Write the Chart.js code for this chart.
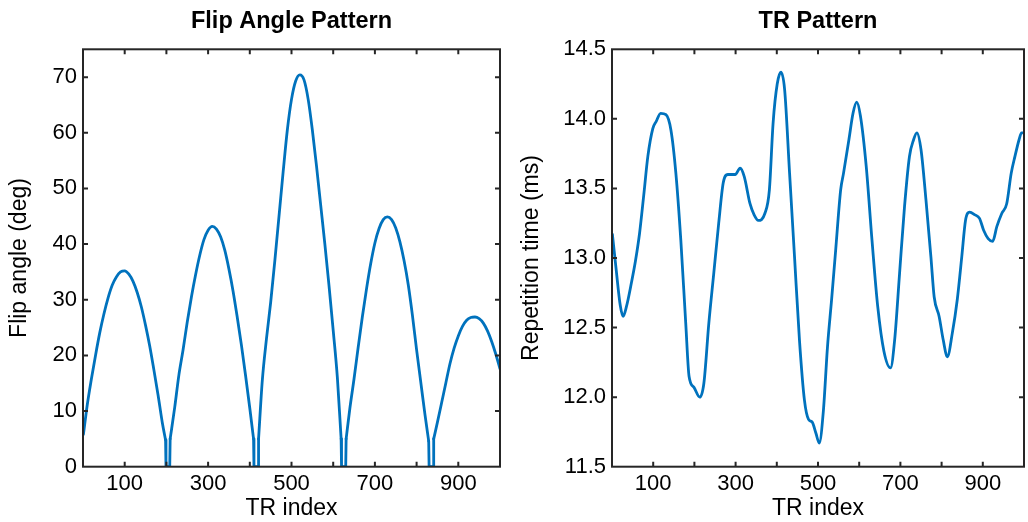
<!DOCTYPE html>
<html><head><meta charset="utf-8">
<script src="https://cdn.jsdelivr.net/npm/chart.js@4.4.0/dist/chart.umd.min.js"></script>
<style>
html,body{margin:0;padding:0;background:#fff;}
#wrap{position:relative;width:1028px;height:522px;overflow:hidden;background:#fff;}
.pane{position:absolute;top:0;}
</style></head><body>
<div id="wrap">
<div class="pane" style="left:0;width:512px;height:522px"><canvas id="c1" width="512" height="522"></canvas></div>
<div class="pane" style="left:512px;width:516px;height:522px"><canvas id="c2" width="516" height="522"></canvas></div>
</div>
<script>
// ---- data ----
const flipIndex = [1,10,20,30,40,50,60,70,80,90,100,110,120,130,140,150,160,170,180,190,198,199,208,
  209,220,230,240,250,260,270,280,290,300,310,320,330,340,350,360,370,380,390,400,409,410,420,
  421,430,440,450,460,470,480,490,500,510,520,530,540,550,560,570,580,590,600,610,619,620,630,
  631,640,650,660,670,680,690,700,710,720,730,740,750,760,770,780,790,800,810,820,829,830,840,
  841,850,860,870,880,890,900,910,920,930,940,950,960,970,980,990,1000];
const flipAngle = [5.8,11.0,15.7,20.0,24.0,27.4,30.3,32.6,34.1,35.0,35.2,34.6,33.3,31.3,28.7,25.4,21.7,17.4,12.9,8.0,4.8,0,0,
  5.0,10.7,16.5,21.0,26.0,30.5,34.5,38.0,40.8,42.5,43.2,42.7,41.3,38.9,35.5,31.5,26.8,21.8,16.3,10.5,5.0,0,0,
  5.0,15.5,23.0,29.5,37.0,45.0,53.0,60.5,66.0,69.3,70.4,69.5,66.0,60.5,54.0,47.0,40.0,32.5,24.5,16.0,5.0,0,0,
  5.0,10.5,15.8,21.5,27.0,32.0,36.5,40.2,42.8,44.4,44.9,44.4,42.9,40.4,37.0,32.7,27.2,21.0,15.2,9.4,4.6,0,0,
  5.0,8.0,11.5,15.0,18.5,21.3,23.5,25.2,26.3,26.8,26.9,26.6,25.8,24.4,22.5,20.2,17.6];

const trIndex = [1,10,20,27,35,47,57,67,77,87,99,107,118,131,143,155,167,179,187,199,213,223,235,247,259,270,281,299,311,321,
  335,345,355,371,382,391,401,410,419,431,443,455,467,477,486,495,503,513,523,533,543,555,562,575,585,594,603,617,631,645,
  660,676,686,698,710,722,732,740,750,762,774,782,794,804,814,826,838,849,858,868,881,892,902,913,924,934,946,958,969,978,988,994,1000];
const repTime = [13.17,12.92,12.66,12.58,12.65,12.82,12.98,13.18,13.45,13.73,13.93,13.98,14.04,14.03,13.92,13.61,13.13,12.53,12.15,12.07,12.0,12.1,12.53,12.89,13.25,13.54,13.60,13.60,13.645,13.585,
  13.39,13.31,13.27,13.32,13.49,13.97,14.25,14.335,14.21,13.61,13.01,12.41,11.98,11.84,11.82,11.74,11.67,11.90,12.36,12.70,13.06,13.49,13.61,13.85,14.04,14.12,14.02,13.66,13.13,12.65,
  12.33,12.21,12.41,12.89,13.37,13.73,13.85,13.90,13.78,13.42,13.01,12.72,12.58,12.41,12.29,12.46,12.70,13.01,13.27,13.33,13.31,13.285,13.2,13.14,13.12,13.225,13.32,13.39,13.61,13.73,13.85,13.90,13.90];

const xTickLabels = [100,300,500,700,900];
const flipTickLabels = [0,10,20,30,40,50,60,70];
const trTickLabels = [11.5,12.0,12.5,13.0,13.5,14.0,14.5];

// ---- styling ----
const FONT = '"Liberation Sans", Arial, Helvetica, sans-serif';
Chart.defaults.font.family = FONT;
Chart.defaults.color = '#000';
const LINE = '#0072BD';
const AXIS = '#262626';

const framePlugin = {
  id: 'frame',
  afterDatasetsDraw(chart) {
    const {ctx, chartArea: a} = chart;
    const x = chart.scales.x, y = chart.scales.y;
    const L = 5;
    ctx.save();
    ctx.strokeStyle = AXIS; ctx.lineWidth = 2;
    ctx.beginPath();
    x.ticks.forEach(t => {
      if (t.value <= x.min + 1e-9 || t.value >= x.max - 1e-9) return;
      const px = x.getPixelForValue(t.value);
      ctx.moveTo(px, a.bottom); ctx.lineTo(px, a.bottom - L);
      ctx.moveTo(px, a.top); ctx.lineTo(px, a.top + L);
    });
    y.ticks.forEach(t => {
      if (t.value <= y.min + 1e-9 || t.value >= y.max - 1e-9) return;
      const py = y.getPixelForValue(t.value);
      ctx.moveTo(a.left, py); ctx.lineTo(a.left + L, py);
      ctx.moveTo(a.right, py); ctx.lineTo(a.right - L, py);
    });
    ctx.stroke();
    ctx.strokeRect(a.left, a.top, a.right - a.left, a.bottom - a.top);
    ctx.restore();
  }
};

function lineDs(pts, smooth) {
  const ds = {data: pts, borderColor: LINE, borderWidth: 2.8, pointRadius: 0, fill: false,
    spanGaps: false, borderJoinStyle: 'round', borderCapStyle: 'round'};
  if (smooth) ds.cubicInterpolationMode = 'monotone'; else ds.tension = 0;
  return ds;
}

function makeChart(id, datasets, cfg) {
  return new Chart(document.getElementById(id), {
    type: 'line',
    data: {datasets},
    options: {
      responsive: false, animation: false, devicePixelRatio: 1,
      layout: {padding: {left: 0, right: cfg.padRight, top: 0, bottom: 0}},
      plugins: {
        legend: {display: false}, tooltip: {enabled: false},
        title: {display: true, text: cfg.title, fullSize: false, color: '#000',
          font: {size: 23.5, weight: 'bold', family: FONT}, padding: {top: 7, bottom: 14.1}}
      },
      scales: {
        x: {type: 'linear', min: 0, max: 1000,
          grid: {display: false, drawTicks: false}, border: {display: false},
          ticks: {stepSize: 100, autoSkip: false, maxRotation: 0, padding: 4, color: '#000',
            font: {size: 22, family: FONT},
            callback: v => xTickLabels.includes(Math.round(v)) ? String(Math.round(v)) : ''},
          title: {display: true, text: 'TR index', color: '#000', font: {size: 23, family: FONT}, padding: {top: 0, bottom: 0}},
          afterFit: s => { s.height = 55.3; }
        },
        y: {type: 'linear', min: cfg.ymin, max: cfg.ymax,
          grid: {display: false, drawTicks: false}, border: {display: false},
          ticks: {stepSize: cfg.ystep, padding: 6, color: '#000', font: {size: 22, family: FONT},
            callback: v => { const m = cfg.yLabels.find(t => Math.abs(t - v) < 1e-6); return m === undefined ? '' : cfg.fmt(m); }},
          title: {display: true, text: cfg.ytitle, color: '#000', font: {size: 23, family: FONT}, padding: {top: 6, bottom: 0}},
          afterFit: s => { s.width = cfg.yWidth; }
        }
      }
    },
    plugins: [framePlugin]
  });
}

// Flip angle: smooth arches (non-zero samples) + straight-sided notches (zero samples and their neighbours)
const archPts = [], notchPts = [];
flipIndex.forEach((xv, i) => {
  const yv = flipAngle[i];
  if (yv === 0) {
    if (archPts.length && archPts[archPts.length - 1].y !== null) archPts.push({x: xv, y: null});
  } else {
    archPts.push({x: xv, y: yv});
  }
  const nearZero = yv === 0 || flipAngle[i - 1] === 0 || flipAngle[i + 1] === 0;
  if (nearZero) {
    notchPts.push({x: xv, y: yv});
  } else if (notchPts.length && notchPts[notchPts.length - 1].y !== null) {
    notchPts.push({x: xv, y: null});
  }
});

makeChart('c1', [lineDs(archPts, true), lineDs(notchPts, false)], {title: 'Flip Angle Pattern', ytitle: 'Flip angle (deg)',
  ymin: 0, ymax: 75, ystep: 10, yLabels: flipTickLabels, fmt: v => String(v), yWidth: 83, padRight: 12});
makeChart('c2', [lineDs(trIndex.map((xv, i) => ({x: xv, y: repTime[i]})), true)], {title: 'TR Pattern', ytitle: 'Repetition time (ms)',
  ymin: 11.5, ymax: 14.5, ystep: 0.5, yLabels: trTickLabels, fmt: v => v.toFixed(1), yWidth: 100, padRight: 1});
</script>
</body></html>
